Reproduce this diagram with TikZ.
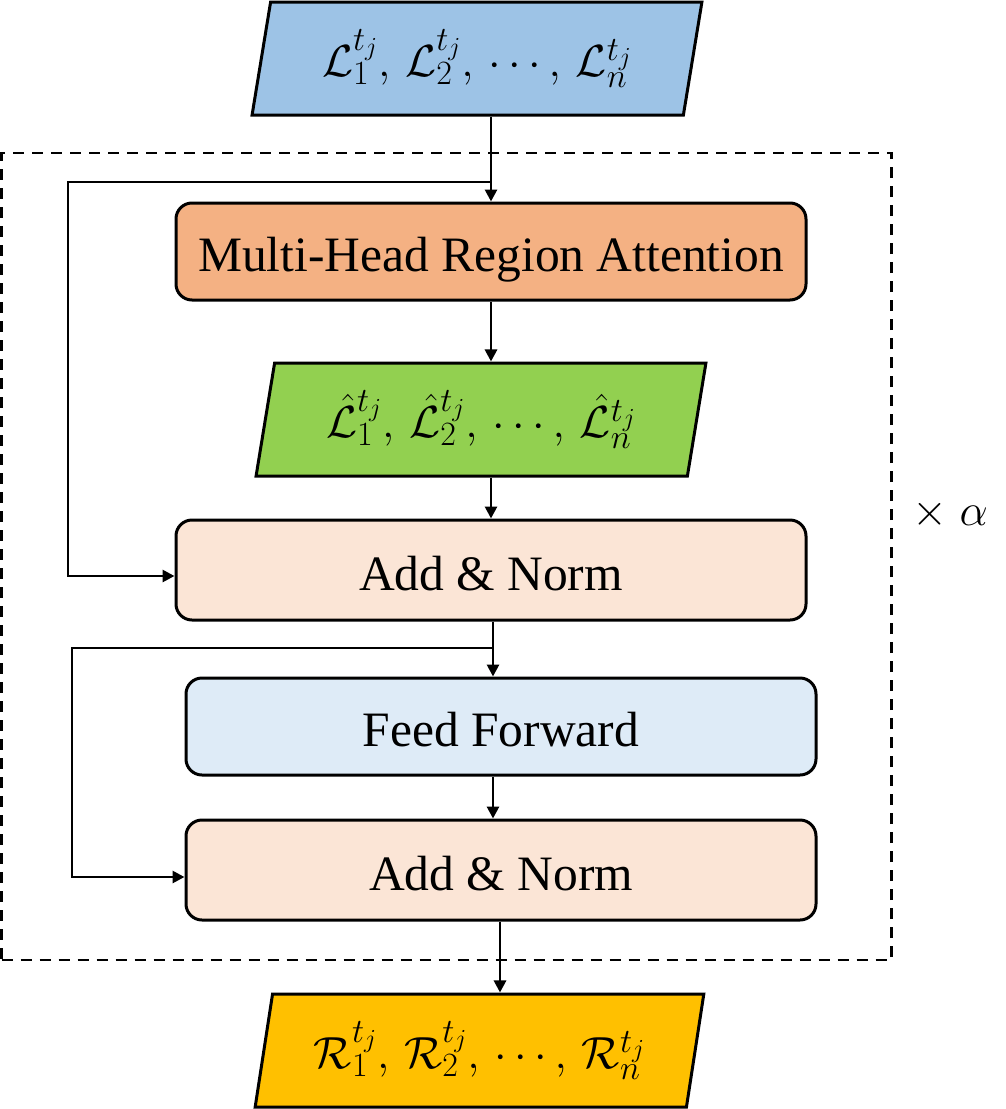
\RequirePackage{fix-cm}
\documentclass[tikz,border=0pt]{standalone}
\usepackage{fontspec}
\setmainfont{Liberation Serif}
\DeclareMathSizes{49.5}{45}{34}{26}
\usetikzlibrary{shapes.geometric,arrows.meta,calc}
\definecolor{inblue}{HTML}{9DC3E6}
\definecolor{mhaorange}{HTML}{F4B183}
\definecolor{midgreen}{HTML}{92D050}
\definecolor{peach}{HTML}{FBE5D6}
\definecolor{ffblue}{HTML}{DEEBF7}
\definecolor{outgold}{HTML}{FFC000}
\newcommand{\itemL}[1]{{\mathcal{L}}_{#1}^{t_j}}
\newcommand{\itemH}[1]{{\hat{\mathcal{L}}}_{#1}^{t_j}}
\newcommand{\itemR}[1]{{\mathcal{R}}_{#1}^{t_j}}
\begin{document}
\begin{tikzpicture}[x=1pt,y=-1pt,
  bigfont/.style={font=\fontsize{49.5}{59}\selectfont},
  box/.style={draw, line width=3pt, rounded corners=16pt, minimum width=630pt, inner sep=0pt,
    text height=40pt, text depth=0pt, bigfont},
  para/.style={trapezium, trapezium left angle=76.5, trapezium right angle=103.5, trapezium stretches=true,
    draw, line width=3pt, minimum width=450pt, minimum height=113pt, inner sep=0pt, bigfont},
  conn/.style={line width=2.8pt, -{Triangle[length=12pt,width=12pt]}},
  loopbox/.style={draw, line width=2.8pt, dash pattern=on 11pt off 8pt, inner sep=0pt}]
\useasboundingbox (0,0) rectangle (1006,1109);
% loop frame
\node[loopbox, minimum width=890pt, minimum height=807pt] (loop) at (446.5,556.5) {};
\node[bigfont, anchor=west, inner sep=0pt] (rep) at (912,514) {$\times\;\alpha$};
% nodes
\node[para, fill=inblue] (inp) at (477,58.5) {$\itemL{1},\,\itemL{2},\,\cdots,\,\itemL{n}$};
\node[box, fill=mhaorange, minimum height=97pt] (mha) at (491,251.5) {Multi-Head Region Attention};
\node[para, fill=midgreen] (mid) at (481,419.5) {$\itemH{1},\,\itemH{2},\,\cdots,\,\itemH{n}$};
\node[box, fill=peach, minimum height=100pt] (an1) at (491,570) {Add \& Norm};
\node[box, fill=ffblue, minimum height=97pt] (ff) at (501,726.5) {Feed Forward};
\node[box, fill=peach, minimum height=100pt] (an2) at (501,870) {Add \& Norm};
\node[para, fill=outgold] (out) at (479.5,1050.5) {$\itemR{1},\,\itemR{2},\,\cdots,\,\itemR{n}$};
% junctions
\coordinate (j1) at (491,182);
\coordinate (k1) at (68,182);
\coordinate (k2) at (68,576);
\coordinate (j2) at (493,648);
\coordinate (k3) at (72,648);
\coordinate (k4) at (72,877);
\coordinate (j3) at (500,1000);
% connectors
\draw[conn] (inp.south -| mha.north) -- (mha.north);
\draw[conn] (j1) -- (k1) -- (k2) -- (k2 -| an1.west);
\draw[conn] (mha.south) -- (mha.south |- mid.north);
\draw[conn] (mid.south -| an1.north) -- (an1.north);
\draw[conn] (an1.south -| j2) -- (ff.north -| j2);
\draw[conn] (j2) -- (k3) -- (k4) -- (k4 -| an2.west);
\draw[conn] (ff.south -| j2) -- (an2.north -| j2);
\draw[conn] (an2.south -| j3) -- (out.north -| j3);
\end{tikzpicture}
\end{document}
